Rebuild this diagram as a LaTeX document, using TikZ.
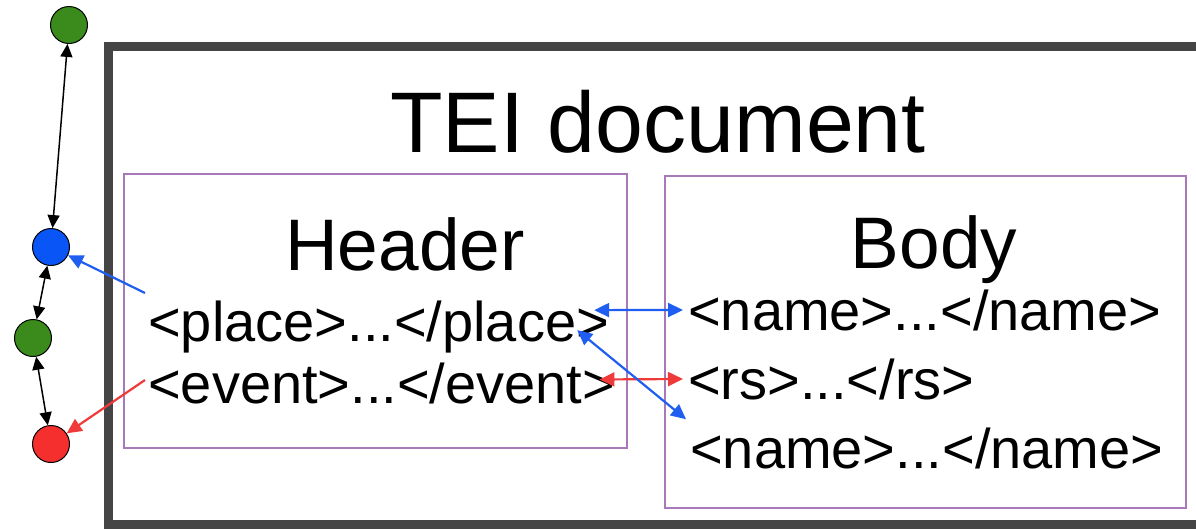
\documentclass[tikz,border=0pt]{standalone}
\usepackage{fontspec}
\setmainfont{Liberation Sans}
\usetikzlibrary{arrows.meta}
\definecolor{framegray}{HTML}{454545}
\definecolor{boxpurple}{HTML}{A878B8}
\definecolor{linkblue}{HTML}{1F5EF0}
\definecolor{linkred}{HTML}{F03A3A}
\definecolor{dotgreen}{HTML}{3A8A1C}
\definecolor{dotblue}{HTML}{0A55F5}
\definecolor{dotred}{HTML}{F52E2E}
\tikzset{
  section/.style={draw=boxpurple, line width=2pt, inner sep=0pt},
  dot/.style={circle, draw=black, line width=1pt, minimum size=37pt, inner sep=0pt},
  bigtitle/.style={font=\fontsize{86}{86}\selectfont, inner sep=0pt, anchor=base},
  midtitle/.style={font=\fontsize{73}{73}\selectfont, inner sep=0pt, anchor=base},
  tagline/.style={font=\fontsize{56}{56}\selectfont, inner sep=0pt, anchor=base west},
  chain/.style={{Triangle[length=13pt,width=12pt]}-{Triangle[length=13pt,width=12pt]}, line width=1.5pt, black},
  bluelink/.style={{Triangle[length=15pt,width=14pt]}-{Triangle[length=15pt,width=14pt]}, line width=2.2pt, linkblue},
  redlink/.style={{Triangle[length=15pt,width=14pt]}-{Triangle[length=15pt,width=14pt]}, line width=2.2pt, linkred},
  blueref/.style={-{Triangle[length=15pt,width=14pt]}, line width=2.2pt, linkblue},
  redref/.style={-{Triangle[length=15pt,width=14pt]}, line width=2.2pt, linkred},
}
\begin{document}
\begin{tikzpicture}[x=1pt,y=-1pt]
\useasboundingbox (0,0) rectangle (1196,528);
\fill[white] (0,0) rectangle (1196,528);

% document frame, running off the right edge
\begin{scope}
  \clip (0,0) rectangle (1196,528);
  \draw[framegray, line width=9pt] (108,46) rectangle (1240,524);
\end{scope}

\node[bigtitle] (tei) at (658,152) {TEI document};

% header and body sections
\node[section, minimum width=503pt, minimum height=274pt] (header) at (375.5,311) {};
\node[section, minimum width=521pt, minimum height=332pt] (body) at (925.5,342) {};

\node[midtitle] (htitle) at (405,270) {Header};
\node[midtitle] (btitle) at (934,268) {Body};

\node[tagline] (place) at (148,341) {<place>...</place>};
\node[tagline] (event) at (148,403) {<event>...</event>};
\node[tagline] (name1) at (688,330) {<name>...</name>};
\node[tagline] (rs)    at (688,399) {<rs>...</rs>};
\node[tagline] (name2) at (690,468) {<name>...</name>};

% entity chain on the left
\node[dot, fill=dotgreen] (g1) at (69,25) {};
\node[dot, fill=dotblue]  (b1) at (51,247) {};
\node[dot, fill=dotgreen] (g2) at (33,338) {};
\node[dot, fill=dotred]   (r1) at (51,444) {};

\draw[chain] (g1) -- (b1);
\draw[chain] (b1) -- (g2);
\draw[chain] (g2) -- (r1);

% references from the header to the entities
\coordinate (placeref) at (145,293);
\coordinate (eventref) at (145,380);
\draw[blueref] (placeref) -- (b1);
\draw[redref]  (eventref) -- (r1);

% links between header and body
\draw[bluelink] ([shift={(-15pt,16.4pt)}]place.east) -- ([xshift=-5pt]name1.west);
\draw[redlink]  ([shift={(-16pt,3.5pt)}]event.east) -- ([xshift=-5pt]rs.west);
\draw[bluelink] ([shift={(-32pt,-3.6pt)}]place.east) -- ([shift={(-4pt,8pt)}]name2.north west);
\end{tikzpicture}
\end{document}
